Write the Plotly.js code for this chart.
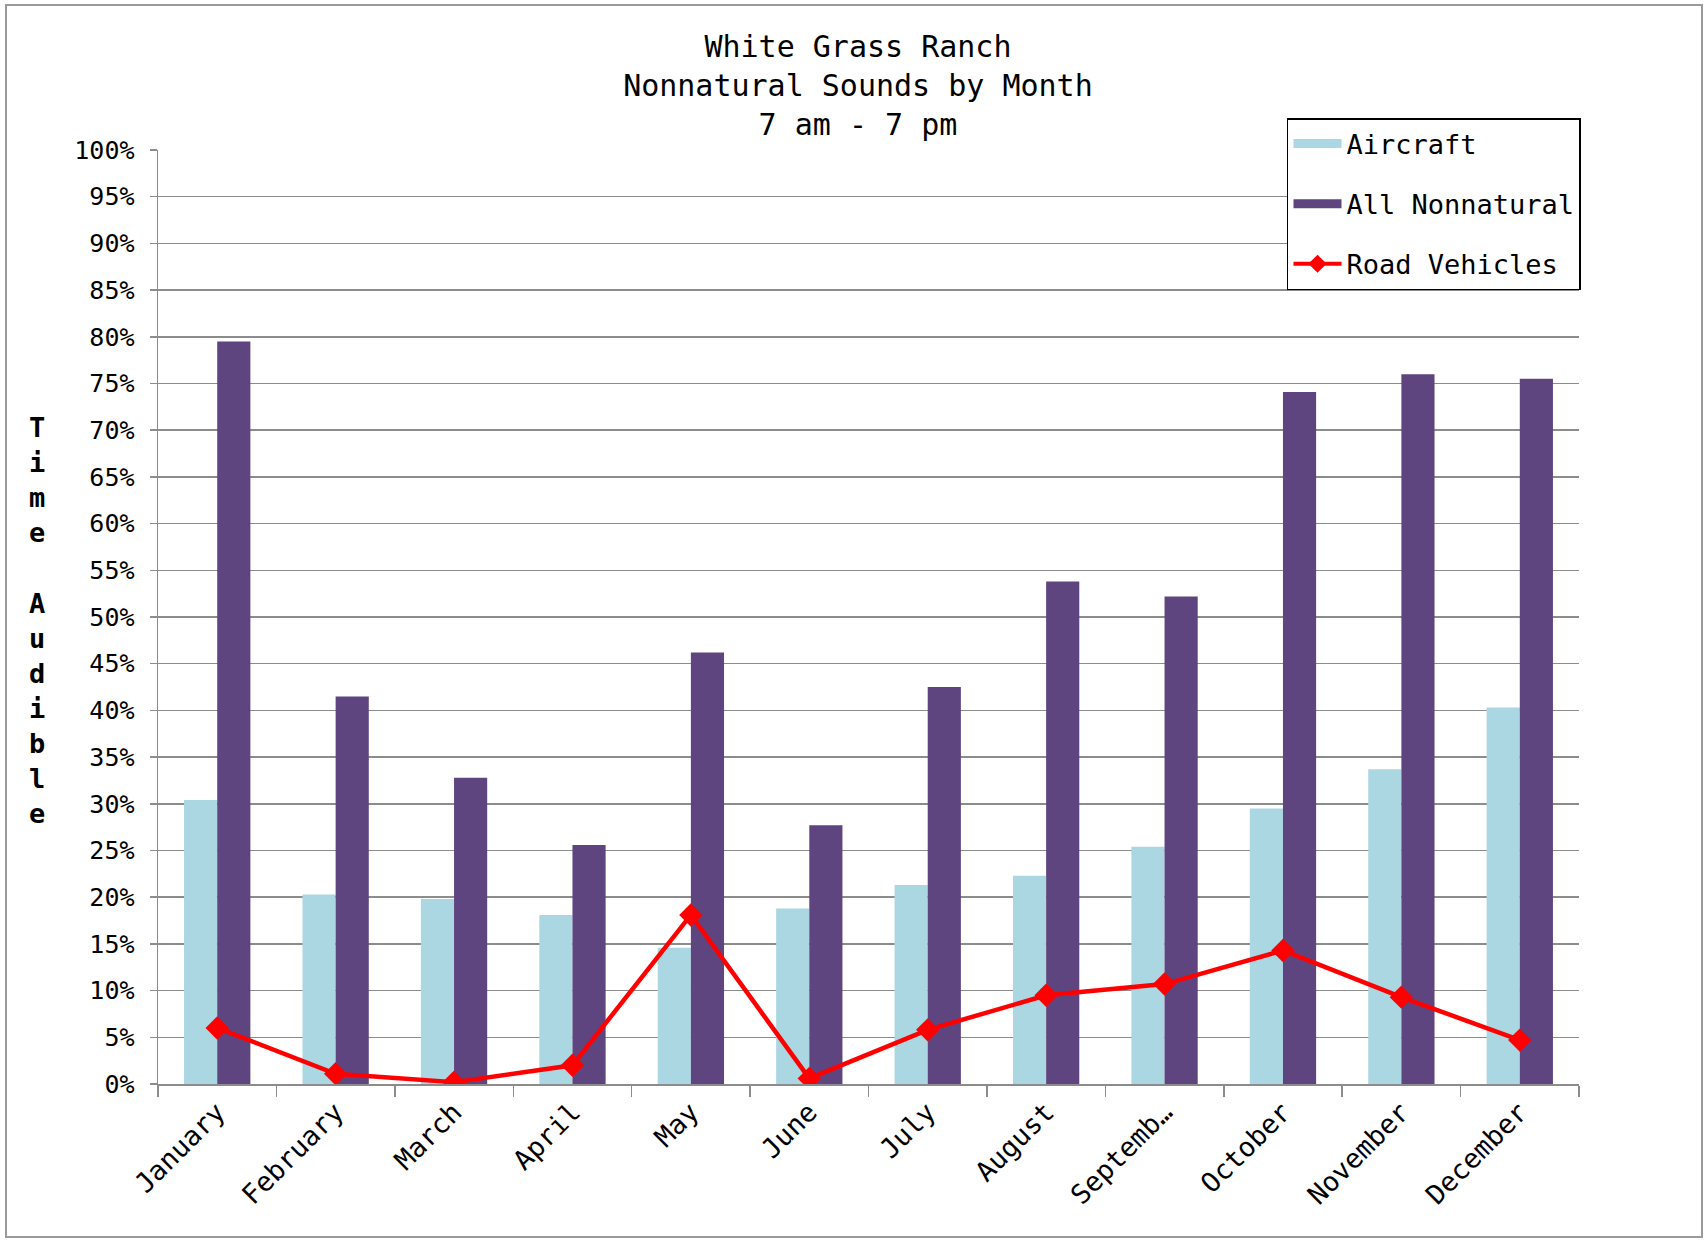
<!DOCTYPE html>
<html>
<head>
<meta charset="utf-8">
<script src="https://cdn.plot.ly/plotly-3.0.1.min.js"></script>
<style>html,body{margin:0;padding:0;background:#fff;}#chart{width:1707px;height:1241px;}</style>
</head>
<body>
<div id="chart"></div>
<script>
const months = ["January","February","March","April","May","June","July","August","Septemb…","October","November","December"];
const aircraft = [0.304, 0.203, 0.198, 0.181, 0.146, 0.188, 0.213, 0.223, 0.254, 0.295, 0.337, 0.403];
const allNonnatural = [0.795, 0.415, 0.328, 0.256, 0.462, 0.277, 0.425, 0.538, 0.522, 0.741, 0.760, 0.755];
const roadVehicles = [0.060, 0.011, 0.002, 0.020, 0.181, 0.006, 0.058, 0.095, 0.107, 0.143, 0.093, 0.047];

const FONT = "DejaVu Sans Mono, Liberation Mono, monospace";
const AIR_COLOR = '#ABD7E2';
const ALL_COLOR = '#5F4580';

const traces = [
  {type:'bar', name:'Aircraft', x:months, y:aircraft, marker:{color:AIR_COLOR}, showlegend:false},
  {type:'bar', name:'All Nonnatural', x:months, y:allNonnatural, marker:{color:ALL_COLOR}, showlegend:false},
  {type:'scatter', mode:'lines+markers', name:'Road Vehicles', x:months, y:roadVehicles,
   line:{color:'#FF0000', width:4.5}, marker:{symbol:'diamond', size:18, color:'#FF0000'}, legendgroup:'c', showlegend:false},
  // legend entries (wide swatches like the original)
  {type:'scatter', mode:'lines', name:'Aircraft', x:[null], y:[null], line:{color:AIR_COLOR, width:9}, legendgroup:'a'},
  {type:'scatter', mode:'lines', name:'All Nonnatural', x:[null], y:[null], line:{color:ALL_COLOR, width:9}, legendgroup:'b'},
  {type:'scatter', mode:'lines+markers', name:'Road Vehicles', x:[null], y:[null],
   line:{color:'#FF0000', width:4}, marker:{symbol:'diamond', size:14, color:'#FF0000'}, legendgroup:'c'}
];

const layout = {
  width:1707, height:1241,
  paper_bgcolor:'#ffffff', plot_bgcolor:'#ffffff',
  margin:{l:158, r:128, t:150, b:157},
  font:{family:FONT, color:'#000'},
  title:{text:'White Grass Ranch<br>Nonnatural Sounds by Month<br>7 am - 7 pm',
         font:{family:FONT, size:30, color:'#000'},
         xref:'container', x:0.5026, xanchor:'center',
         yref:'container', y:1-57/1241, yanchor:'top'},
  barmode:'group', bargap:0.44, bargroupgap:0,
  showlegend:true,
  legend:{x:1.0014, xanchor:'right', y:(1084-118)/934, yanchor:'top',
          bgcolor:'#fff', bordercolor:'#000', borderwidth:1.5,
          font:{family:FONT, size:27, color:'#000'},
          traceorder:'grouped', tracegroupgap:22, itemwidth:48},
  xaxis:{type:'category', range:[-0.5, 11.5], tickangle:-45, tickfont:{family:FONT, size:27, color:'#000'},
         ticks:'outside', tickson:'boundaries', ticklen:11, tickcolor:'#8c8c8c', tickwidth:1.5,
         showline:true, linecolor:'#8c8c8c', linewidth:1.5, showgrid:false, zeroline:false},
  yaxis:{range:[0,1], dtick:0.05, tickformat:'.0%', tickfont:{family:FONT, size:25, color:'#000'},
         ticks:'outside', ticklen:7, tickcolor:'#8c8c8c', tickwidth:1.5, ticklabelstandoff:10,
         showline:true, linecolor:'#8c8c8c', linewidth:1.5,
         showgrid:true, gridcolor:'#8c8c8c', gridwidth:1.5, zeroline:false},
  annotations:[
    {text:'T<br>i<br>m<br>e<br> <br>A<br>u<br>d<br>i<br>b<br>l<br>e',
     xref:'paper', yref:'paper', x:(37-158)/1421, y:0.496, xanchor:'center', yanchor:'middle',
     showarrow:false, align:'center',
     font:{family:FONT, size:27, color:'#000', weight:'bold'}}
  ],
  shapes:[
    {type:'rect', xref:'paper', yref:'paper', x0:(6-158)/1421, x1:(1702-158)/1421,
     y0:(1084-1237)/934, y1:(1084-5)/934, line:{color:'#9a9a9a', width:2}, fillcolor:'rgba(0,0,0,0)', layer:'below'}
  ]
};

Plotly.newPlot('chart', traces, layout, {displayModeBar:false, staticPlot:true});
</script>
</body>
</html>
